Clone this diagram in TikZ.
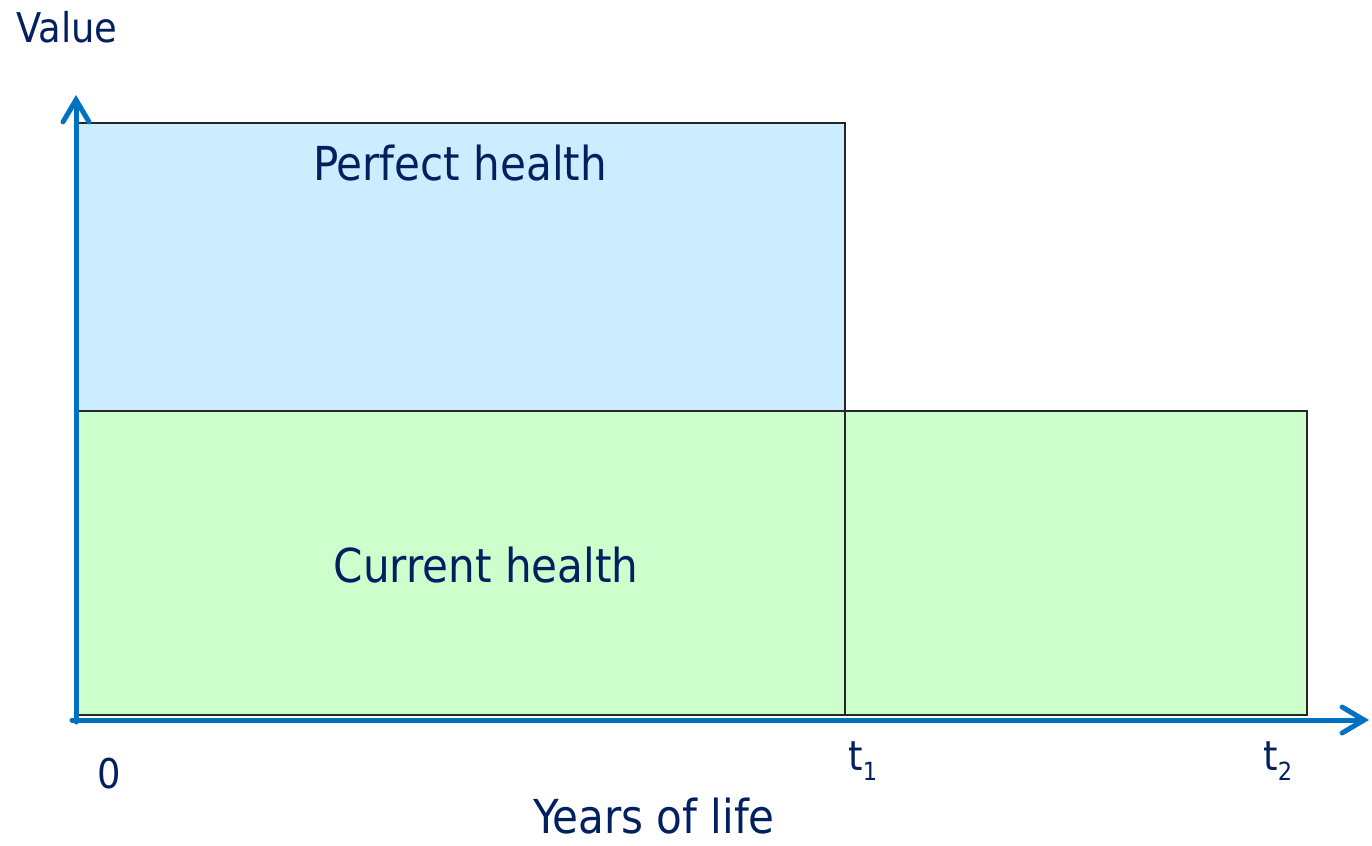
\documentclass[tikz,border=0pt]{standalone}
\usepackage{fontspec}
\setmainfont{DejaVu Sans Condensed}
\usepackage{xcolor}
\usetikzlibrary{arrows.meta}
\usetikzlibrary{positioning}

\definecolor{txtnavy}{HTML}{002060}
\definecolor{axisblue}{HTML}{0070C0}
\definecolor{perfectfill}{HTML}{CCECFF}
\definecolor{currentfill}{HTML}{CCFFCC}

\newcommand{\lowsub}[1]{\raisebox{-5pt}{\fontsize{12.5}{14}\selectfont #1}}

\tikzset{
	axisline/.style={draw=axisblue, line width=2.5pt, line cap=round,
		-{Straight Barb[length=11pt, width=13pt, line cap=round]}},
	healthbox/.style={draw=black!85, line width=1pt},
	biglabel/.style={text=txtnavy, font=\fontsize{23.4}{27}\selectfont, inner sep=0pt},
	ticklabel/.style={text=txtnavy, font=\fontsize{20.5}{24}\selectfont, inner sep=0pt}
}

\begin{document}
\begin{tikzpicture}[x=0.5pt, y=-0.5pt]
		\useasboundingbox (0,0) rectangle (1372,846);
		% areas
		\filldraw[healthbox, fill=perfectfill] (75,123) rectangle (845,411);
		\filldraw[healthbox, fill=currentfill] (75,411) rectangle (845,715);
		\filldraw[healthbox, fill=currentfill] (845,411) rectangle (1307,715);
		\node[biglabel, anchor=base] (perfect) at (460,180) {Perfect health};
		\node[biglabel, anchor=base] (current) at (486,582) {Current health};
		% axes
		\coordinate (origin) at (76,722);
		\coordinate (ytip) at (76,95);
		\coordinate (xstart) at (72,720);
		\coordinate (xtip) at (1369,720);
		\draw[axisline] (origin) -- (ytip);
		\draw[axisline] (xstart) -- (xtip);
		\node[ticklabel, anchor=base west] (value) at (16,42) {Value};
		\node[biglabel, anchor=base] (years) at (654,833) {Years of life};
		\node[ticklabel, anchor=base west] (zero) at (97,788) {0};
		\foreach \x/\name/\lab in {848/tone/1, 1263/ttwo/2} {
			\node[ticklabel, anchor=base west] (\name) at (\x,770) {t\lowsub{\lab}};
		}
	\end{tikzpicture}
\end{document}
